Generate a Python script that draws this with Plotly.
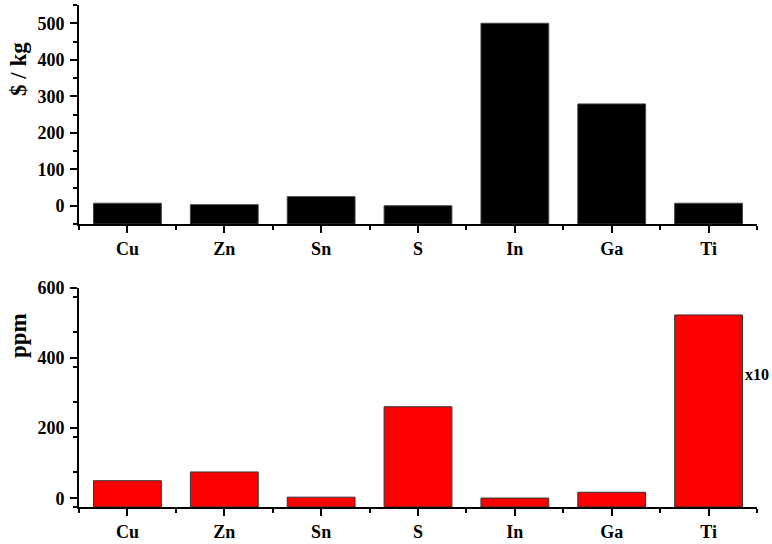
import plotly.graph_objects as go

elements = ["Cu", "Zn", "Sn", "S", "In", "Ga", "Ti"]
price_usd_per_kg = [7, 3, 25, 0, 500, 279, 7]
abundance_ppm = [50, 75, 3, 261, 0.5, 17, 523]

top_range = [-50, 550]
bot_range = [-25, 600]
xpos = list(range(len(elements)))

FONT = "Liberation Serif"

fig = go.Figure()
fig.add_trace(go.Bar(
    x=xpos, y=[v - top_range[0] for v in price_usd_per_kg], base=top_range[0],
    width=0.7, marker=dict(color="#000000", line=dict(color="#444444", width=1)),
    xaxis="x", yaxis="y", showlegend=False,
    customdata=price_usd_per_kg, hovertemplate="%{customdata}<extra></extra>",
))
fig.add_trace(go.Bar(
    x=xpos, y=[v - bot_range[0] for v in abundance_ppm], base=bot_range[0],
    width=0.7, marker=dict(color="#ff0000", line=dict(color="#333333", width=1)),
    xaxis="x2", yaxis="y2", showlegend=False,
    customdata=abundance_ppm, hovertemplate="%{customdata}<extra></extra>",
))

tickfont = dict(family=FONT, size=18, color="black", weight="bold")

def xaxis_cfg(anchor):
    return dict(
        range=[-0.5, 6.5], tickmode="array", tickvals=xpos, ticktext=elements,
        ticks="outside", ticklen=7, tickwidth=2, tickcolor="black",
        showline=True, linewidth=2, linecolor="black", showgrid=False,
        zeroline=False, tickfont=tickfont, anchor=anchor, ticklabelstandoff=0,
        automargin=False,
        minor=dict(ticks="outside", tickmode="linear", tick0=0.5, dtick=1,
                   ticklen=4, tickwidth=2, tickcolor="black", showgrid=False),
    )

def yaxis_cfg(domain, rng, dtick, mdtick, anchor):
    return dict(
        domain=domain, range=rng, tickmode="linear", tick0=0, dtick=dtick,
        ticks="outside", ticklen=7, tickwidth=2, tickcolor="black",
        showline=True, linewidth=2, linecolor="black", showgrid=False,
        zeroline=False, tickfont=tickfont, anchor=anchor, ticklabelstandoff=2,
        automargin=False,
        minor=dict(ticks="outside", tickmode="linear", tick0=rng[0], dtick=mdtick,
                   ticklen=4, tickwidth=2, tickcolor="black", showgrid=False),
    )

fig.update_layout(
    width=772, height=544,
    margin=dict(l=79, r=15, t=5, b=37, autoexpand=False),
    paper_bgcolor="white", plot_bgcolor="white",
    bargap=0.3,
    xaxis=xaxis_cfg("y"),
    yaxis=yaxis_cfg([0.5637, 1.0], top_range, 100, 50, "x"),
    xaxis2=xaxis_cfg("y2"),
    yaxis2=yaxis_cfg([0.0, 0.4363], bot_range, 200, 100, "x2"),
    annotations=[
        dict(text="$ / kg", xref="paper", yref="paper", x=-0.09, y=0.8725,
             textangle=-90, showarrow=False, xanchor="center", yanchor="middle",
             font=dict(family=FONT, size=23, color="black", weight="bold")),
        dict(text="ppm", xref="paper", yref="paper", x=-0.09, y=0.3426,
             textangle=-90, showarrow=False, xanchor="center", yanchor="middle",
             font=dict(family=FONT, size=23, color="black", weight="bold")),
        dict(text="x10", xref="paper", yref="paper", x=0.980, y=0.263,
             showarrow=False, xanchor="left", yanchor="middle",
             font=dict(family=FONT, size=16, color="black", weight="bold")),
    ],
)

fig.write_html("out.html")
